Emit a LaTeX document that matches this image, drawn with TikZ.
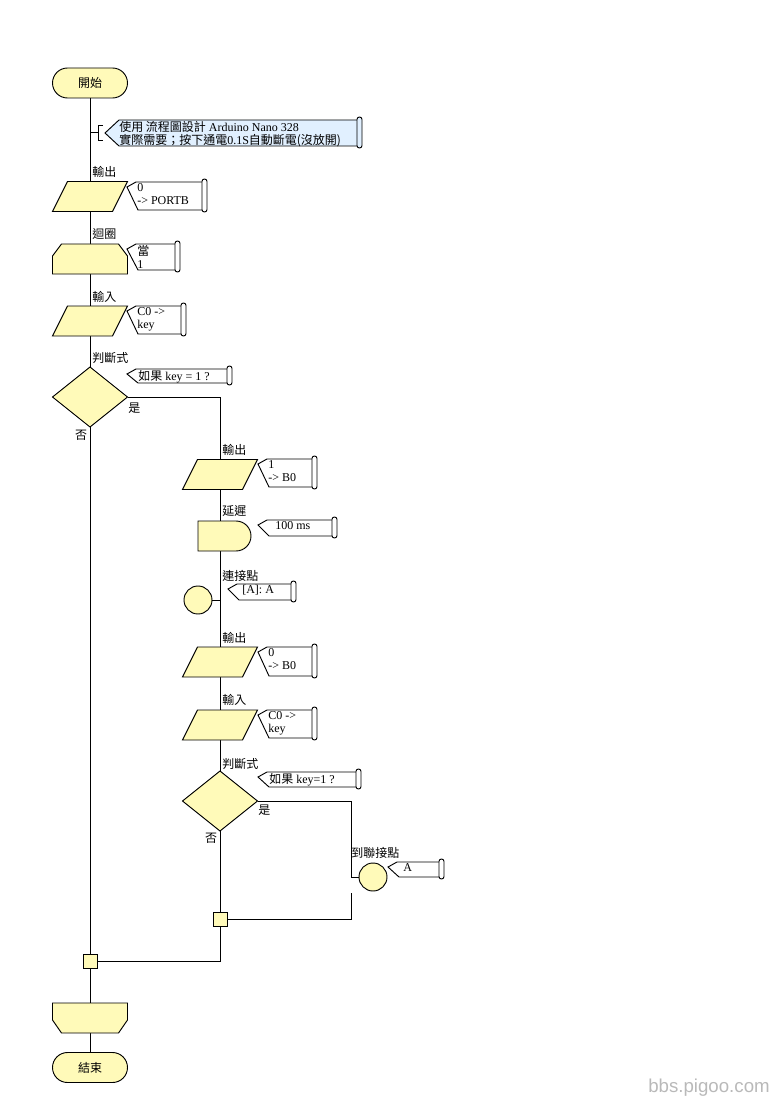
\documentclass[tikz,border=0pt]{standalone}
\usepackage{fontspec}
\setmainfont{Liberation Serif}
\newfontfamily\cjk{Noto Sans CJK TC}
\newfontfamily\wmfont{Liberation Sans}
\usetikzlibrary{calc}
\definecolor{fyel}{RGB}{255,250,185}
\definecolor{fblue}{RGB}{225,240,255}
\tikzset{
  shp/.style={draw=black, line width=0.7pt},
  ln/.style={draw=black, line width=0.7pt},
  box/.style={draw=none, minimum width=56.25pt, minimum height=22.5pt, inner sep=0pt, outer sep=0pt},
  term/.style={shp, fill=fyel, rounded corners=11.25pt, minimum width=56.25pt, minimum height=22.5pt, inner sep=0pt, outer sep=0pt, font=\cjk\fontsize{9}{10}\selectfont},
  conn/.style={shp, circle, fill=fyel, minimum size=21pt, inner sep=0pt, outer sep=0pt},
  jn/.style={shp, rectangle, fill=fyel, minimum size=10.5pt, inner sep=0pt, outer sep=0pt},
  lbl/.style={anchor=west, inner sep=0pt, font=\cjk\fontsize{9}{10}\selectfont},
  ctext/.style={anchor=north west, inner sep=0pt, align=left, font=\fontsize{9}{10}\selectfont},
}
\newcommand\cmt[7]{%
  \draw[shp,fill=white] (#2,#3+5) -- (#2+9,#3) -- (#4,#3) -- (#4,#5) -- (#2+11,#5) -- cycle;
  \draw[shp,fill=white,rounded corners=1.8pt] (#4-1,#3-3) rectangle (#4+4,#5+2);
  \node[ctext] (#1) at (#2+#7,#3+1) {#6};
}
\newcommand\para[1]{%
  \draw[shp,fill=fyel] ($(#1.north west)+(15,0)$) -- (#1.north east) -- ($(#1.south east)+(-15,0)$) -- (#1.south west) -- cycle;
}
\begin{document}
\begin{tikzpicture}[x=0.75pt,y=-0.75pt]
\useasboundingbox (0,0) rectangle (781,1109);
% nodes
\node[term] (start) at (90,83) {開始};
\node[box] (out1) at (90,196.5) {};
\node[box] (loop1) at (90,259) {};
\node[box] (in1) at (90,321) {};
\node[box, minimum height=45pt] (dec1) at (90,397) {};
\node[box] (out2) at (220,474.5) {};
\node[box, minimum width=39.75pt] (delay) at (224.5,536) {};
\node[box] (out3) at (220,662) {};
\node[box] (in2) at (220,725) {};
\node[box, minimum height=45pt] (dec2) at (220,801) {};
\node[box] (lend) at (90,1018) {};
\coordinate (b0) at (90,132);
\coordinate (b1) at (98,132);
\coordinate (gx) at (351,877);
\coordinate (gy) at (351,893);
% connectors
\draw[ln] (start.south) -- (out1.north);
\draw[ln] (out1.south) -- (loop1.north);
\draw[ln] (loop1.south) -- (in1.north);
\draw[ln] (in1.south) -- (dec1.north);
\draw[ln] (b0) -- (b1);
\draw[ln] (103,125) -- (98,125) -- (98,140) -- (103,140);
\draw[ln] (dec1.east) -| (out2.north);
\draw[ln] (out2.south) -- (out3.north);
\draw[ln] (out3.south) -- (in2.north);
\draw[ln] (in2.south) -- (dec2.north);
% shapes
\node[conn] (pt) at (198,600) {};
\node[conn] (goto) at (373,877) {};
\node[jn] (jn2) at (220,919) {};
\node[jn] (jn1) at (90,961) {};
\node[term] (end) at (90,1067.5) {結束};
\draw[ln] (pt.east) -- (pt.east -| out2.south);
\draw[ln] (dec1.south) -- (jn1.north);
\draw[ln] (dec2.east) -| (gx) -- (goto.west);
\draw[ln] (gy) |- (jn2.east);
\draw[ln] (dec2.south) -- (jn2.north);
\draw[ln] (jn2.south) |- (jn1.east);
\draw[ln] (jn1.south) -- (lend.north);
\draw[ln] (lend.south) -- (end.north);
\para{out1}
\para{in1}
\para{out2}
\para{out3}
\para{in2}
\draw[shp,fill=fyel] (dec1.north) -- (dec1.east) -- (dec1.south) -- (dec1.west) -- cycle;
\draw[shp,fill=fyel] (dec2.north) -- (dec2.east) -- (dec2.south) -- (dec2.west) -- cycle;
\draw[shp,fill=fyel] ($(loop1.north west)+(9,0)$) -- ($(loop1.north east)+(-9,0)$) -- ($(loop1.north east)+(0,12)$) -- (loop1.south east) -- (loop1.south west) -- ($(loop1.north west)+(0,12)$) -- cycle;
\draw[shp,fill=fyel] (lend.north west) -- (lend.north east) -- ($(lend.south east)+(0,-13)$) -- ($(lend.south east)+(-9,0)$) -- ($(lend.south west)+(9,0)$) -- ($(lend.south west)+(0,-13)$) -- cycle;
\draw[shp,fill=fyel] (delay.north west) -- ($(delay.north east)+(-15,0)$) arc[start angle=90, end angle=-90, radius=11.25pt] -- (delay.south west) -- cycle;
% blue comment
\draw[shp,fill=fblue] (105,133) -- (119,120) -- (358,120) -- (358,146) -- (119,146) -- cycle;
\draw[shp,fill=fblue,rounded corners=1.8pt] (357,117) rectangle (362,148);
\node[ctext] (c0) at (119,121) {{\cjk 使用 流程圖設計} Arduino Nano 328\\{\cjk 實際需要；按下通電}0.1S{\cjk 自動斷電(沒放開)}};
% comments
\cmt{c1}{127}{182}{203}{210}{0\\-> PORTB}{10}
\cmt{c2}{127}{244}{176}{270}{{\cjk 當}\\1}{10}
\cmt{c3}{127}{306}{182}{334}{C0 ->\\key}{10}
\cmt{c4}{127}{369}{228}{383}{{\cjk 如果} key = 1 ?}{11}
\cmt{c5}{258}{459}{313}{487}{1\\-> B0}{10}
\cmt{c6}{258}{520}{333}{536}{100 ms}{17}
\cmt{c7}{228}{584}{292}{600}{[A]: A}{14}
\cmt{c8}{258}{647}{313}{676}{0\\-> B0}{10}
\cmt{c9}{258}{710}{313}{738}{C0 ->\\key}{10}
\cmt{c10}{258}{772}{357}{787}{{\cjk 如果} key=1 ?}{11}
\cmt{c11}{388}{862}{440}{877}{A}{15}
% labels
\node[lbl] (l1) at (92,172) {輸出};
\node[lbl] (l2) at (92,234) {迴圈};
\node[lbl] (l3) at (92,297) {輸入};
\node[lbl] (l4) at (92,358) {判斷式};
\node[lbl] (y1) at (128,408) {是};
\node[lbl, anchor=center] (n1) at (81,435) {否};
\node[lbl] (l5) at (222,450) {輸出};
\node[lbl] (l6) at (222,511) {延遲};
\node[lbl] (l7) at (222,576) {連接點};
\node[lbl] (l8) at (222,638) {輸出};
\node[lbl] (l9) at (222,700) {輸入};
\node[lbl] (l10) at (222,764) {判斷式};
\node[lbl] (y2) at (258,810) {是};
\node[lbl, anchor=center] (n2) at (211,838) {否};
\node[lbl] (l11) at (351,853) {到聯接點};
% watermark
\node[font=\wmfont\fontsize{14}{14}\selectfont, text=gray!55, inner sep=0pt] (wm) at (709,1088) {bbs.pigoo.com};
\end{tikzpicture}
\end{document}
